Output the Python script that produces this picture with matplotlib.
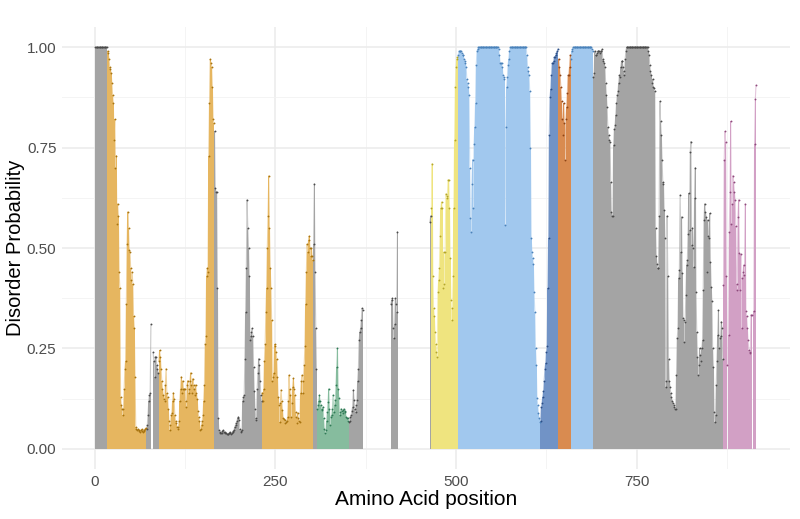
import numpy as np
import matplotlib
matplotlib.use("Agg")
import matplotlib.pyplot as plt
from matplotlib.ticker import FixedLocator

nan = np.nan

# disorder probability per residue, one list per annotated region
gray_1 = [1.0, 1.0, 1.0, 1.0, 1.0, 1.0, 1.0, 1.0, 1.0, 1.0, 1.0, 1.0, 1.0, 1.0, 1.0, 1.0, 1.0]
orange_1 = [0.99, 0.985, 0.97, 0.95, 0.945, 0.935, 0.91, 0.88, 0.86, 0.77, 0.82, 0.70, 0.73, 0.56, 0.61, 0.58, 0.44, 0.40,
            0.13, 0.11, 0.10, 0.085, 0.10, 0.15, 0.20, 0.22, 0.36, 0.51, 0.59, 0.55, 0.495, 0.49, 0.45, 0.42, 0.44, 0.41,
            0.33, 0.30, 0.18, 0.055,
            0.05, 0.048, 0.05, 0.047, 0.045, 0.043, 0.047, 0.049, 0.045, 0.043, 0.047, 0.045, 0.05, 0.052]
gray_2 = [0.05, 0.06, 0.085, 0.12, 0.135, 0.14, 0.31, nan, nan, 0.24, 0.22, 0.18, 0.23, 0.23, 0.21, 0.20, 0.19]
orange_2 = [0.22, 0.245, 0.23, 0.20, 0.17, 0.15, 0.135, 0.125, 0.12, 0.16,
            0.20, 0.14, 0.13, 0.10, 0.07, 0.047, 0.06, 0.085, 0.09, 0.12,
            0.14, 0.125, 0.085, 0.07, 0.064, 0.055, 0.05, 0.055, 0.07, 0.12,
            0.15, 0.18, 0.14, 0.17, 0.15, 0.15, 0.15, 0.12, 0.105, 0.16,
            0.17, 0.14, 0.15, 0.17, 0.19, 0.16, 0.14, 0.175, 0.16, 0.15,
            0.135, 0.16, 0.14, 0.125, 0.095, 0.08, 0.07, 0.047, 0.05, 0.06,
            0.07, 0.085, 0.12, 0.16, 0.26, 0.28, 0.43, 0.45, 0.44, 0.73,
            0.86, 0.97, 0.96, 0.95, 0.90, 0.82, 0.81]
gray_3 = [0.79, 0.65, 0.64, 0.64, 0.40, 0.076, 0.047, 0.043, 0.040, 0.039,
          0.039, 0.045, 0.047, 0.042, 0.042, 0.040, 0.039, 0.038, 0.036, 0.036,
          0.039, 0.042, 0.039, 0.036, 0.039, 0.042, 0.045, 0.048, 0.055, 0.06,
          0.065, 0.07, 0.076, 0.08, 0.073, 0.05, 0.043, 0.045, 0.047, 0.12,
          0.13, 0.134, 0.225, 0.34, 0.45, 0.62, 0.55, 0.50, 0.43, 0.27,
          0.28, 0.29, 0.30, 0.28, 0.205, 0.143, 0.10, 0.076, 0.073, 0.15,
          0.19, 0.225, 0.21, 0.17, 0.134, 0.12]
orange_3 = [0.14, 0.12, 0.15, 0.22, 0.26, 0.34, 0.40, 0.50, 0.58, 0.68,
            0.55, 0.45, 0.40, 0.32, 0.17, 0.18, 0.19, 0.26, 0.255, 0.24,
            0.225, 0.18, 0.13, 0.11, 0.068, 0.115, 0.147, 0.12, 0.097, 0.076,
            0.075, 0.073, 0.064, 0.068, 0.07, 0.08, 0.12, 0.184, 0.15, 0.134,
            0.08, 0.115, 0.155, 0.176, 0.15, 0.134, 0.093, 0.08, 0.064, 0.09,
            0.076, 0.07, 0.068, 0.14, 0.17, 0.184, 0.14, 0.17, 0.21, 0.255,
            0.36, 0.44, 0.51, 0.49, 0.52, 0.53, 0.50, 0.48, 0.50, 0.48,
            0.47]
gray_4 = [0.51, 0.66, 0.44, 0.30, 0.20]
green_1 = [0.10, 0.11, 0.12, 0.134, 0.12, 0.11, 0.10, 0.097, 0.105, 0.076,
           0.05, 0.04, 0.047, 0.07, 0.093, 0.118, 0.15, 0.10, 0.06, 0.08,
           0.085, 0.10, 0.134, 0.093, 0.11, 0.122, 0.16, 0.205, 0.25, 0.15,
           0.126, 0.085, 0.093, 0.10, 0.095, 0.089, 0.097, 0.10, 0.095, 0.093,
           0.08, 0.078, 0.076, 0.07]
gray_5 = [0.068, 0.07, 0.08, 0.085, 0.095, 0.105, 0.147, 0.122, 0.10, 0.093,
          0.11, 0.122, 0.17, 0.20, 0.27, 0.29, 0.30, 0.32, 0.35, 0.345]
gray_6 = [0.36, 0.37, 0.375, 0.30, 0.275, 0.31, 0.375, 0.36, 0.34, 0.54]
gray_7 = [0.565, 0.58]
yellow_1 = [0.60, 0.71, 0.43, 0.35, 0.33, 0.29, 0.26, 0.24, 0.23, 0.39,
            0.42, 0.45, 0.53, 0.60, 0.615, 0.60, 0.40, 0.49, 0.41, 0.49,
            0.635, 0.625, 0.63, 0.67, 0.67, 0.60, 0.475, 0.37, 0.32, 0.35,
            0.43, 0.60, 0.77, 0.90, 0.95, 0.97, 0.975]
sky_1 = [0.98, 0.99, 0.99, 0.99, 0.99, 0.985, 0.98, 0.98, 0.97, 0.965, 0.96, 0.95, 0.92, 0.91,
         0.90, 0.88, 0.70, 0.574, 0.54, 0.66, 0.72, 0.60, 0.76, 0.80, 0.86, 0.955, 0.99, 0.995,
         1.0, 1.0, 1.0, 1.0, 1.0, 1.0, 1.0, 1.0, 1.0, 1.0, 1.0, 1.0, 1.0, 1.0,
         1.0, 1.0, 1.0, 1.0, 1.0, 1.0, 1.0, 1.0, 1.0, 1.0, 1.0, 1.0, 1.0, 1.0,
         0.995, 0.98, 0.96, 0.96, 0.96, 0.95, 0.93, 0.925, 0.92, 0.557, 0.80, 0.90, 0.925, 0.955, 0.97, 0.99,
         1.0, 1.0, 1.0, 1.0, 1.0, 1.0, 1.0, 1.0, 1.0, 1.0, 1.0, 1.0,
         1.0, 1.0, 1.0, 1.0, 1.0, 1.0, 1.0, 1.0, 1.0, 1.0, 1.0,
         0.98, 0.95, 0.94, 0.93, 0.89, 0.75, 0.525, 0.49, 0.475, 0.46, 0.39, 0.34, 0.25, 0.21,
         0.126, 0.11, 0.09, 0.076, 0.068]
blue_1 = [0.07, 0.105, 0.114, 0.13, 0.143, 0.17, 0.20, 0.213, 0.242, 0.255, 0.40, 0.525, 0.78,
          0.875, 0.895, 0.93, 0.96, 0.96, 0.965, 0.975, 0.975, 0.98, 0.985, 0.99, 0.995]
vermillion_1 = [0.97, 0.95, 0.93, 0.90, 0.865, 0.82, 0.78, 0.86, 0.81, 0.72, 0.82, 0.85, 0.885,
                0.93, 0.93, 0.95, 0.98]
sky_2 = [0.97, 0.99, 0.995,
         1.0, 1.0, 1.0, 1.0, 1.0, 1.0, 1.0, 1.0, 1.0, 1.0, 1.0, 1.0, 1.0,
         1.0, 1.0, 1.0, 1.0, 1.0, 1.0, 1.0, 1.0, 1.0, 1.0, 1.0, 1.0, 1.0,
         0.995, 0.99]
gray_8 = [0.925, 0.935, 0.99, 0.98, 0.98, 0.985, 0.99, 0.99, 0.99, 0.985,
          0.99, 0.99, 0.995, 0.97, 0.965, 0.96, 0.95, 0.91, 0.88, 0.85,
          0.80, 0.78, 0.77, 0.765, 0.665, 0.59, 0.58, 0.58, 0.757, 0.795,
          0.805, 0.83, 0.86, 0.88, 0.89, 0.91, 0.93, 0.925, 0.95, 0.965,
          0.965, 0.95, 0.94, 0.93, 0.97, 0.99,
          1.0, 1.0, 1.0, 1.0, 1.0, 1.0, 1.0, 1.0, 1.0, 1.0, 1.0, 1.0, 1.0, 1.0, 1.0,
          1.0, 1.0, 1.0, 1.0, 1.0, 1.0, 1.0, 1.0, 1.0, 1.0, 1.0, 1.0, 1.0, 1.0, 1.0,
          0.99, 0.98, 0.955, 0.94, 0.93, 0.91, 0.92, 0.90, 0.897, 0.89,
          0.55, 0.48, 0.46, 0.45, 0.45, 0.58, 0.865, 0.815, 0.78, 0.72,
          0.665, 0.66, 0.595, 0.525, 0.155, 0.17, 0.58, 0.43, 0.225, 0.17,
          0.155, 0.14, 0.13, 0.12, 0.115, 0.11, 0.105, 0.10, 0.10, 0.184,
          0.275, 0.30, 0.425, 0.445, 0.632, 0.49, 0.578, 0.437, 0.325, 0.32,
          0.267, 0.317, 0.383, 0.458, 0.47, 0.536, 0.636, 0.545, 0.74, 0.765,
          0.507, 0.55, 0.50, 0.453, 0.624, 0.70, 0.39, 0.29, 0.23, 0.184,
          0.21, 0.25, 0.234, 0.22, 0.25, 0.27, 0.395, 0.57, 0.61, 0.59,
          0.578, 0.44, 0.57, 0.53, 0.524, 0.586, 0.466, 0.404, 0.367, 0.25,
          0.205, 0.093, 0.068, 0.085, 0.16, 0.22, 0.284, 0.345, 0.25, 0.275,
          0.28, 0.317, 0.30, 0.225]
pink_1 = [0.408, 0.72, 0.79, 0.765, 0.43, 0.21, nan, 0.284, 0.54, 0.64,
          0.815, 0.56, 0.61, 0.68, 0.665, 0.64, 0.62, 0.555, 0.41, 0.395,
          0.578, 0.62, 0.487, 0.395, 0.484, 0.30, 0.425, 0.44, 0.458, 0.433,
          0.61, 0.342, 0.33, 0.30, 0.27, 0.246, 0.24, 0.238, 0.334, 0.334,
          nan, nan, 0.342, 0.76, 0.87, 0.905]

# (bar fill, point colour) per region type
palette = {
    "gray": ("#A4A4A4", "#4A4A4A"),
    "orange": ("#E6B660", "#A87410"),
    "green": ("#86BC9E", "#2F7A56"),
    "yellow": ("#EFE47F", "#B3A52B"),
    "sky": ("#A1C8EE", "#4A82BA"),
    "blue": ("#7193C6", "#2C4E86"),
    "vermillion": ("#D98B50", "#8E4416"),
    "pink": ("#D2A0C5", "#8E4A7C"),
}

segments = [
    (1, "gray", gray_1), (18, "orange", orange_1), (72, "gray", gray_2),
    (89, "orange", orange_2), (166, "gray", gray_3), (232, "orange", orange_3),
    (303, "gray", gray_4), (308, "green", green_1), (352, "gray", gray_5),
    (410, "gray", gray_6), (464, "gray", gray_7), (466, "yellow", yellow_1),
    (503, "sky", sky_1), (617, "blue", blue_1), (642, "vermillion", vermillion_1),
    (659, "sky", sky_2), (690, "gray", gray_8), (870, "pink", pink_1),
]

plt.rcParams["font.family"] = ["Liberation Sans", "DejaVu Sans"]
fig = plt.figure(figsize=(8, 5.19), dpi=100)
ax = fig.add_axes([0.0775, 0.0963, 0.91, 0.8517])

for start, kind, vals in segments:
    fill, pt = palette[kind]
    vals = np.array(vals, dtype=float)
    x = start + np.arange(len(vals))
    ax.bar(x, np.nan_to_num(vals), width=1.0, color=fill, linewidth=0, zorder=2)
    ax.plot(x, vals, color=fill, alpha=0.6, lw=0.8, zorder=3)
    ax.scatter(x, vals, s=1.8, color=pt, linewidths=0, zorder=4)

ax.set_xlim(-45, 962)
ax.set_ylim(-0.05, 1.05)
ax.xaxis.set_major_locator(FixedLocator([0, 250, 500, 750]))
ax.xaxis.set_minor_locator(FixedLocator([125, 375, 625, 875]))
ax.yaxis.set_major_locator(FixedLocator([0, 0.25, 0.5, 0.75, 1.0]))
ax.yaxis.set_minor_locator(FixedLocator([0.125, 0.375, 0.625, 0.875]))
ax.set_yticklabels(["0.00", "0.25", "0.50", "0.75", "1.00"])
ax.set_xticklabels(["0", "250", "500", "750"])

ax.grid(which="major", color="#EBEBEB", lw=1.1, zorder=0)
ax.grid(which="minor", color="#F2F2F2", lw=0.6, zorder=0)
ax.set_axisbelow(True)
for s in ax.spines.values():
    s.set_visible(False)
ax.tick_params(which="both", length=0)
ax.tick_params(axis="both", labelsize=11, labelcolor="#4D4D4D")
ax.tick_params(axis="y", pad=4)
ax.tick_params(axis="x", pad=4)

ax.set_xlabel("Amino Acid position", fontsize=15, labelpad=1)
ax.set_ylabel("Disorder Probability", fontsize=14.5, labelpad=1)

fig.savefig("out.png", dpi=100, facecolor="white")
